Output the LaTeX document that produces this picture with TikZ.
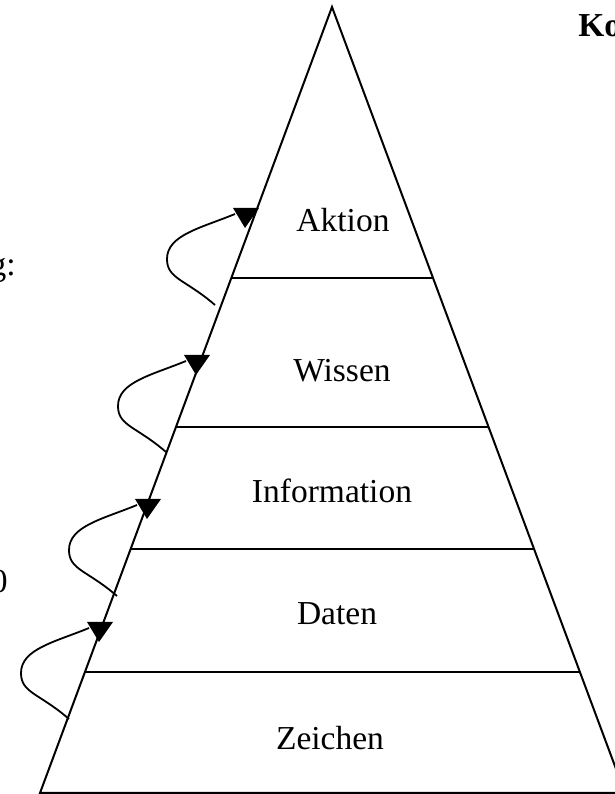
\documentclass[tikz,border=0pt]{standalone}
\usepackage{fontspec}
\setmainfont{Liberation Serif}
\usepackage{tikz}
\usetikzlibrary{calc}
\tikzset{
  edge/.style={line width=1pt},
  level/.style={anchor=base, inner sep=0pt, font=\fontsize{16.75}{20}\selectfont},
  loop/.style={line width=0.9pt},
  tip/.style={fill=black},
}

\begin{document}
\begin{tikzpicture}[x=0.5pt, y=0.5pt]
  \useasboundingbox (0,0) rectangle (615,794);
  \clip (0,0) rectangle (615,794);
  % pyramid
  \coordinate (apex) at (332,787);
  \coordinate (bl)   at (40,1);
  \coordinate (br)   at (625,1);
  \draw[edge] (bl) -- (apex) -- (br) -- cycle;
  \foreach \t in {0.3448, 0.5344, 0.6896, 0.846}
    \draw[edge] ($(apex)!\t!(bl)$) -- ($(apex)!\t!(br)$);

  \node[level] (aktion)  at (343,562) {Aktion};
  \node[level] (wissen)  at (342,412) {Wissen};
  \node[level] (info)    at (332,291) {Information};
  \node[level] (daten)   at (337,169) {Daten};
  \node[level] (zeichen) at (330,44)  {Zeichen};

  % cut-off texts at the margins
  \node[level, anchor=base west, font=\fontsize{16.75}{20}\selectfont\bfseries] (ko) at (578,757) {Ko};
  \node[level, anchor=base east] (gtxt) at (16,518) {g:};
  \node[level, anchor=base east] (ntxt) at (8,201) {0};

  % loops
  \foreach \x/\y [count=\i] in {233/586, 184/439, 135/295, 87/172} {
    \coordinate (s\i) at (\x-18,\y-97);
    \coordinate (l\i) at (\x-66,\y-51);
    \coordinate (e\i) at (\x+2,\y-6);
    \draw[loop] (s\i) .. controls ($(s\i)+(-30,26)$) and ($(l\i)+(0,-20)$) .. (l\i)
                      .. controls ($(l\i)+(0,24)$) and ($(e\i)+(-34,-14)$) .. (e\i);
    \fill[tip] (\x,\y) -- (\x+26,\y) -- (\x+12,\y-20) -- cycle;
  }
\end{tikzpicture}
\end{document}
